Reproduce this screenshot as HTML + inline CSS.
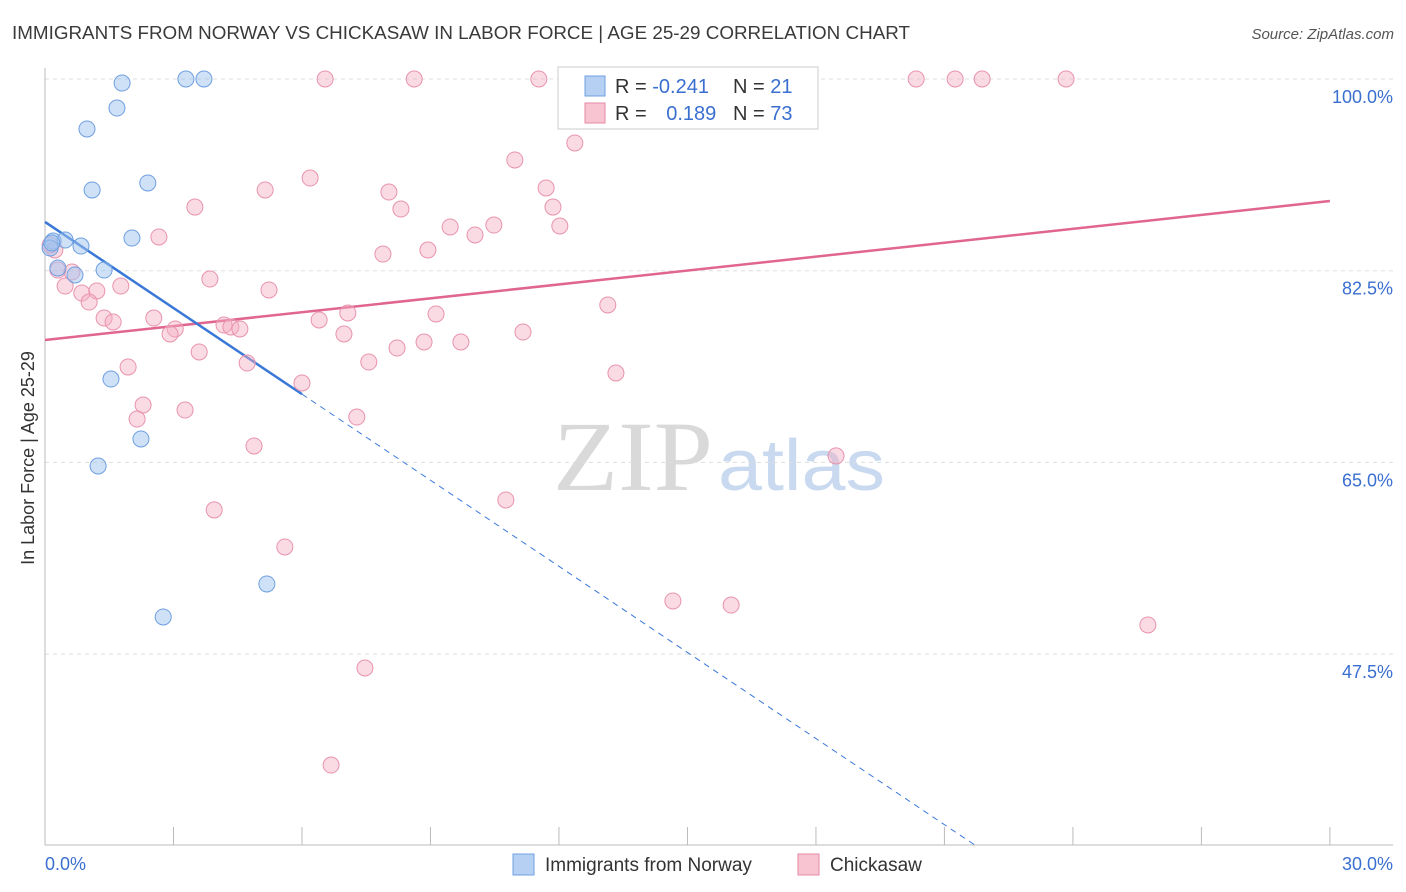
<!DOCTYPE html>
<html><head><meta charset="utf-8"><style>
body{margin:0;background:#fff;font-family:"Liberation Sans",sans-serif;}
#wrap{position:relative;width:1406px;height:892px;overflow:hidden;}
</style></head><body>
<div id="wrap">
<svg id="svg" width="1406" height="892" xmlns="http://www.w3.org/2000/svg">
<text x="12" y="39" font-size="18" fill="#3a3a3a" textLength="898" lengthAdjust="spacingAndGlyphs">IMMIGRANTS FROM NORWAY VS CHICKASAW IN LABOR FORCE | AGE 25-29 CORRELATION CHART</text>
<text x="1394" y="39" font-size="15" fill="#555" text-anchor="end" font-style="italic">Source: ZipAtlas.com</text>
<text x="34" y="458" font-size="18" fill="#333" text-anchor="middle" transform="rotate(-90 34 458)">In Labor Force | Age 25-29</text>
<text x="553" y="490" font-size="100" fill="#d9d9d9" font-family="Liberation Serif, serif" textLength="160" lengthAdjust="spacingAndGlyphs">ZIP</text>
<text x="718" y="490" font-size="72" fill="#c9d9ef" textLength="167" lengthAdjust="spacingAndGlyphs">atlas</text>
<g id="grid"></g><g id="axes"></g><g id="lines"></g><g id="pts"></g>
<g>
<rect x="558" y="67" width="260" height="62" fill="#fff" stroke="#ccc"/>
<rect x="585" y="76" width="20" height="20" fill="#b6d0f3" stroke="#6f9fe0"/>
<rect x="585" y="103" width="20" height="20" fill="#f8c4d2" stroke="#e58aa5"/>
<text x="615" y="93" font-size="20" fill="#333">R = <tspan fill="#3a6fd0">-0.241</tspan></text>
<text x="733" y="93" font-size="20" fill="#333">N = <tspan fill="#3a6fd0">21</tspan></text>
<text x="615" y="120" font-size="20" fill="#333">R = <tspan fill="#3a6fd0" dx="14">0.189</tspan></text>
<text x="733" y="120" font-size="20" fill="#333">N = <tspan fill="#3a6fd0">73</tspan></text>
</g>
<g>
<rect x="513" y="854" width="21" height="21" fill="#b6d0f3" stroke="#6f9fe0"/>
<text x="545" y="871" font-size="19" fill="#333">Immigrants from Norway</text>
<rect x="798" y="854" width="21" height="21" fill="#f8c4d2" stroke="#e58aa5"/>
<text x="830" y="871" font-size="19" fill="#333">Chickasaw</text>
</g>
</svg>
</div>
<script>
const yTicks=[100,82.5,65,47.5];
const yTickLabels=["100.0%","82.5%","65.0%","47.5%"];
const xTickLabels=["0.0%","30.0%"];
const blueX=[1.80,3.29,3.71,1.68,0.98,1.10,2.40,0.19,0.47,0.84,2.03,0.30,0.70,1.38,0.12,1.54,2.24,1.24,5.18,2.76,0.16];
const blueY=[99.63,100,100,97.35,95.44,89.87,90.51,85.21,85.30,84.75,85.48,82.75,82.11,82.56,84.57,72.61,67.14,64.67,53.90,50.89,85.03];
const pinkX=[6.54,8.62,11.53,16.62,20.34,21.25,21.88,23.84,12.37,10.97,6.19,5.14,8.03,11.70,3.50,8.31,11.86,9.46,10.48,10.04,12.02,2.66,8.94,7.89,0.23,0.30,0.63,3.85,0.47,1.77,5.23,0.86,1.21,1.03,13.14,7.07,9.13,6.40,1.38,1.59,2.54,3.04,2.92,4.18,4.34,4.55,11.16,6.98,9.71,8.85,8.22,3.60,7.56,4.72,1.94,13.33,6.00,2.29,3.27,7.28,2.15,4.88,18.47,10.76,3.95,5.60,14.66,16.02,25.75,7.47,6.68,0.12];
const pinkY=[100,100,100,100,100,100,100,100,94.16,92.61,90.96,89.87,89.68,90.05,88.31,88.13,88.31,86.49,86.67,85.76,86.58,85.58,84.39,84.02,84.39,82.56,82.38,81.74,81.10,81.10,80.74,80.46,80.65,79.64,79.37,78.64,78.55,78.00,78.18,77.82,78.18,77.18,76.72,77.54,77.36,77.18,76.90,76.72,75.99,75.99,75.44,75.08,74.16,74.07,73.71,73.16,72.25,70.24,69.78,69.14,68.96,66.50,65.59,61.57,60.66,57.28,52.35,51.98,50.16,46.23,37.37,84.85];
const blueTrend=[86.95,-2.62];
const pinkTrend=[76.17,0.423];
const blueSolidEnd=6.0;
const X=v=>45+v*42.83, Y=v=>79+(100-v)*10.954;
const NS="http://www.w3.org/2000/svg";
function mk(tag,attrs,parent){const e=document.createElementNS(NS,tag);for(const k in attrs)e.setAttribute(k,attrs[k]);document.getElementById(parent).appendChild(e);return e;}
yTicks.forEach((t,i)=>{
 const g=mk('line',{x1:45,x2:1393,y1:Y(t),y2:Y(t),stroke:'#ddd','stroke-dasharray':'4,4'},'grid');
 
 
 const l=mk('text',{x:1393,y:Y(t)+24,'font-size':18,fill:'#3a6fd0','text-anchor':'end'},'grid');
 l.textContent=yTickLabels[i];
 
 
});
const ax=mk('line',{x1:45,x2:1393,y1:845,y2:845,stroke:'#bbb'},'axes');


const ay=mk('line',{x1:45,x2:45,y1:68,y2:845,stroke:'#bbb'},'axes');


for(let i=0;i<=10;i++){
 const t=mk('line',{x1:X(i*3),x2:X(i*3),y1:827,y2:845,stroke:'#bbb'},'axes');
 
 
}
[[0,'start',45],[30,'end',1393]].forEach((a,i)=>{
 const l=mk('text',{x:a[2],y:870,'font-size':18,fill:'#3a6fd0','text-anchor':a[1]},'axes');
 l.textContent=xTickLabels[i];
 
 
});
const pl=mk('line',{x1:X(0),y1:Y(pinkTrend[0]),x2:X(30),y2:Y(pinkTrend[0]+pinkTrend[1]*30),stroke:'#e0658f','stroke-width':2.5},'lines');


const bs=mk('line',{x1:X(0),y1:Y(blueTrend[0]),x2:X(blueSolidEnd),y2:Y(blueTrend[0]+blueTrend[1]*blueSolidEnd),stroke:'#3a78d8','stroke-width':2.5},'lines');


const xEnd=(blueTrend[0]-30.1)/(-blueTrend[1]);
const bd=mk('line',{x1:X(blueSolidEnd),y1:Y(blueTrend[0]+blueTrend[1]*blueSolidEnd),x2:X(xEnd),y2:Y(blueTrend[0]+blueTrend[1]*xEnd),stroke:'#3a78d8','stroke-width':1,'stroke-dasharray':'6,5'},'lines');


pinkX.forEach((v,i)=>{
 const c=mk('circle',{cx:X(v),cy:Y(pinkY[i]),r:8,fill:'rgba(245,175,195,0.45)',stroke:'#e893ad','stroke-width':1},'pts');
 
 
});
blueX.forEach((v,i)=>{
 const c=mk('circle',{cx:X(v),cy:Y(blueY[i]),r:8,fill:'rgba(160,195,240,0.5)',stroke:'#6f9fe0','stroke-width':1},'pts');
 
 
});
</script>
</body></html>
